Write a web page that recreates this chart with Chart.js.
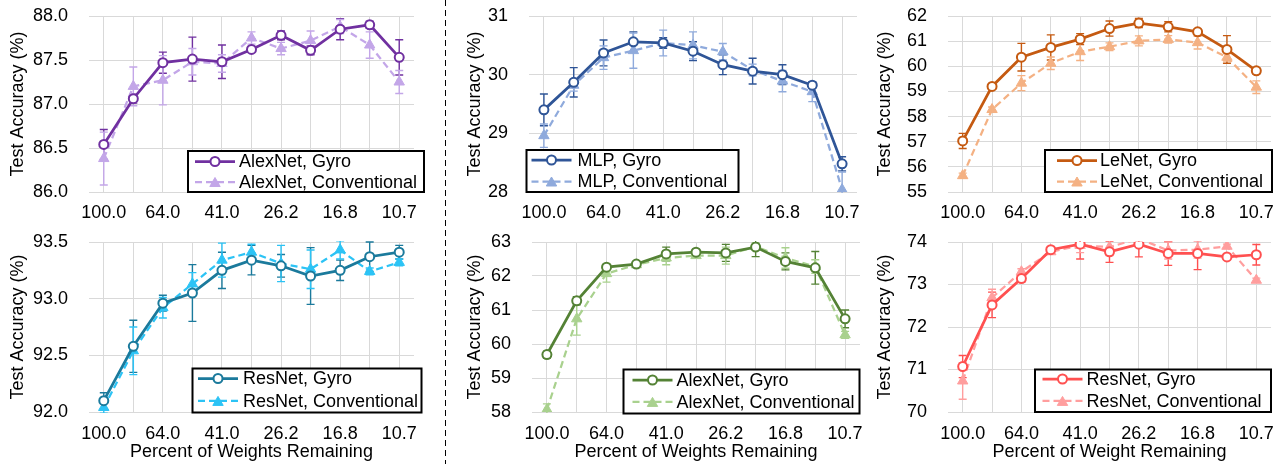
<!DOCTYPE html>
<html><head><meta charset="utf-8">
<script src="https://cdn.jsdelivr.net/npm/chart.js@4.4.1/dist/chart.umd.min.js"></script>
<style>
html,body{margin:0;padding:0;background:#fff;}
body{width:1278px;height:464px;position:relative;overflow:hidden;}
.p{position:absolute;}
canvas{display:block;}
</style></head><body>
<svg class="p" style="left:0;top:0" width="1278" height="464"><line x1="445.5" y1="0" x2="445.5" y2="464" stroke="#000" stroke-width="1" stroke-dasharray="6,4"/></svg>
<div class="p" style="left:0px;top:0px"><canvas id="c1" width="440" height="225"></canvas></div>
<div class="p" style="left:457px;top:0px"><canvas id="c2" width="413" height="225"></canvas></div>
<div class="p" style="left:867px;top:0px"><canvas id="c3" width="411" height="225"></canvas></div>
<div class="p" style="left:0px;top:225px"><canvas id="c4" width="440" height="239"></canvas></div>
<div class="p" style="left:457px;top:225px"><canvas id="c5" width="413" height="239"></canvas></div>
<div class="p" style="left:867px;top:225px"><canvas id="c6" width="411" height="239"></canvas></div>
<script>
// ---- categories (percent of weights remaining) ----
const pctLabels = ['100.0','80.0','64.0','51.2','41.0','32.8','26.2','21.0','16.8','13.4','10.7'];

// ---- AlexNet (top-left) ----
const alexTopGyro     = [86.54,87.06,87.47,87.51,87.48,87.62,87.78,87.61,87.85,87.90,87.53];
const alexTopGyroErr  = [0.17,0.05,0.12,0.25,0.19,0.03,0.05,0.05,0.12,0.04,0.20];
const alexTopConv     = [86.38,87.20,87.27,87.48,87.46,87.75,87.63,87.72,87.88,87.67,87.25];
const alexTopConvErr  = [0.30,0.22,0.28,0.15,0.10,0.07,0.07,0.11,0.08,0.15,0.13];

// ---- MLP (top-middle) ----
const mlpGyro     = [29.40,29.87,30.37,30.56,30.54,30.40,30.17,30.06,30.00,29.82,28.48];
const mlpGyroErr  = [0.27,0.25,0.22,0.17,0.09,0.16,0.17,0.22,0.17,0.05,0.12];
const mlpConv     = [28.96,29.82,30.29,30.41,30.54,30.50,30.39,30.08,29.89,29.71,28.04];
const mlpConvErr  = [0.20,0.10,0.20,0.30,0.22,0.23,0.14,0.10,0.18,0.17,0.30];

// ---- LeNet (top-right) ----
const lenetGyro     = [57.03,59.20,60.36,60.75,61.08,61.50,61.72,61.57,61.37,60.67,59.82];
const lenetGyroErr  = [0.30,0.10,0.55,0.50,0.22,0.30,0.18,0.20,0.10,0.55,0.12];
const lenetConv     = [55.65,58.28,59.33,60.12,60.58,60.78,61.01,61.07,60.94,60.36,59.17];
const lenetConvErr  = [0.10,0.10,0.30,0.25,0.35,0.15,0.20,0.15,0.25,0.15,0.25];

// ---- ResNet (bottom-left) ----
const resBlueGyro     = [92.10,92.58,92.96,93.05,93.25,93.34,93.29,93.20,93.25,93.37,93.41];
const resBlueGyroErr  = [0.07,0.23,0.07,0.25,0.16,0.13,0.10,0.25,0.09,0.13,0.06];
const resBlueConv     = [92.04,92.54,92.92,93.13,93.34,93.41,93.31,93.26,93.43,93.24,93.32];
const resBlueConvErr  = [0.05,0.21,0.09,0.10,0.15,0.07,0.16,0.17,0.08,0.03,0.03];

// ---- AlexNet (bottom-middle) ----
const alexBotGyro     = [59.69,61.27,62.26,62.35,62.65,62.70,62.68,62.85,62.43,62.24,60.74];
const alexBotGyroErr  = [0.10,0.12,0.05,0.05,0.20,0.07,0.25,0.28,0.25,0.48,0.26];
const alexBotConv     = [58.07,60.74,62.07,62.33,62.53,62.60,62.60,62.87,62.53,62.28,60.27];
const alexBotConvErr  = [0.17,0.48,0.25,0.05,0.20,0.07,0.25,0.10,0.30,0.20,0.10];

// ---- ResNet (bottom-right) ----
const resRedGyro     = [71.07,72.52,73.14,73.82,73.95,73.77,73.95,73.73,73.73,73.65,73.70];
const resRedGyroErr  = [0.26,0.30,0.08,0.05,0.35,0.25,0.30,0.28,0.38,0.05,0.24];
const resRedConv     = [70.73,72.69,73.30,73.77,73.92,73.88,74.08,73.80,73.82,73.90,73.10];
const resRedConvErr  = [0.43,0.20,0.07,0.05,0.17,0.20,0.05,0.20,0.20,0.05,0.05];

// ---- y-axis ticks ----
const yTicks1 = [86.0, 86.5, 87.0, 87.5, 88.0];
const yTicks2 = [28, 29, 30, 31];
const yTicks3 = [55, 56, 57, 58, 59, 60, 61, 62];
const yTicks4 = [92.0, 92.5, 93.0, 93.5];
const yTicks5 = [58, 59, 60, 61, 62, 63];
const yTicks6 = [70, 71, 72, 73, 74];

const FONT = '"Liberation Sans", Arial, Helvetica, sans-serif';
Chart.defaults.font.family = FONT;
Chart.defaults.font.size = 18;
Chart.defaults.color = '#000';

function drawMarker(ctx, style, r, x, y) {
  ctx.beginPath();
  if (style === 'circle') {
    ctx.arc(x, y, r, 0, Math.PI * 2);
  } else {
    const a = -Math.PI / 2;
    for (let k = 0; k < 3; k++) {
      const ang = a + k * 2 * Math.PI / 3;
      const px = x + r * Math.cos(ang), py = y + r * Math.sin(ang) + r * 0.25;
      if (k === 0) ctx.moveTo(px, py); else ctx.lineTo(px, py);
    }
    ctx.closePath();
  }
  ctx.fill();
  ctx.stroke();
}

const errorBars = {
  id: 'errorBars',
  beforeDatasetsDraw(chart) {
    const ctx = chart.ctx, xs = chart.scales.x, ys = chart.scales.y, a = chart.chartArea;
    ctx.save();
    ctx.beginPath(); ctx.rect(a.left, a.top - 1, a.right - a.left, a.bottom - a.top + 2); ctx.clip();
    chart.data.datasets.forEach(ds => {
      if (!ds.errors) return;
      ctx.strokeStyle = ds.borderColor; ctx.lineWidth = 1.4; ctx.setLineDash([]);
      ds.data.forEach((v, i) => {
        const e = ds.errors[i];
        const x = xs.getPixelForValue(i);
        const y1 = ys.getPixelForValue(v + e), y2 = ys.getPixelForValue(v - e);
        ctx.beginPath();
        ctx.moveTo(x, y1); ctx.lineTo(x, y2);
        ctx.moveTo(x - 4, y1); ctx.lineTo(x + 4, y1);
        ctx.moveTo(x - 4, y2); ctx.lineTo(x + 4, y2);
        ctx.stroke();
      });
    });
    ctx.restore();
  }
};

const boxLegend = {
  id: 'boxLegend',
  afterDraw(chart, args, o) {
    const ctx = chart.ctx;
    ctx.save();
    ctx.fillStyle = '#fff'; ctx.fillRect(o.x, o.y, o.w, o.h);
    ctx.lineWidth = 2; ctx.strokeStyle = '#000'; ctx.setLineDash([]);
    ctx.strokeRect(o.x, o.y, o.w, o.h);
    chart.data.datasets.forEach((d, i) => {
      const cy = o.y + o.rows[i];
      ctx.strokeStyle = d.borderColor; ctx.lineWidth = d.borderWidth;
      ctx.setLineDash(d.borderDash || []);
      ctx.beginPath(); ctx.moveTo(o.x + o.lx, cy); ctx.lineTo(o.x + o.lx + 40, cy); ctx.stroke();
      ctx.setLineDash([]);
      ctx.fillStyle = d.pointBackgroundColor; ctx.strokeStyle = d.pointBorderColor; ctx.lineWidth = d.pointBorderWidth;
      drawMarker(ctx, d.pointStyle, d.pointRadius, o.x + o.lx + 20, cy);
      ctx.fillStyle = '#000'; ctx.font = '18px ' + FONT; ctx.textBaseline = 'middle'; ctx.textAlign = 'left';
      ctx.fillText(d.label, o.x + o.tx, cy + 1);
    });
    ctx.restore();
  }
};

function makeChart(id, c) {
  new Chart(document.getElementById(id), {
    type: 'line',
    data: {
      labels: pctLabels,
      datasets: [
        { label: c.names[0], data: c.gyro, errors: c.gyroErr, borderColor: c.dark, backgroundColor: '#fff',
          borderWidth: 2.75, pointStyle: 'circle', pointRadius: 4.5, pointHoverRadius: 4.5, pointBorderWidth: 2,
          pointBorderColor: c.dark, pointBackgroundColor: '#fff', tension: 0 },
        { label: c.names[1], data: c.conv, errors: c.convErr, borderColor: c.light, backgroundColor: c.light,
          borderWidth: 2.25, borderDash: [7, 4], pointStyle: 'triangle', pointRadius: 6, pointHoverRadius: 6, pointBorderWidth: 1,
          pointBorderColor: c.light, pointBackgroundColor: c.light, tension: 0 }
      ]
    },
    options: {
      responsive: false, animation: false, devicePixelRatio: 1,
      events: [],
      layout: { padding: { left: 0, top: c.padTop, right: c.padRight, bottom: 0 } },
      plugins: { legend: { display: false }, tooltip: { enabled: false }, boxLegend: c.legend },
      scales: {
        x: {
          type: 'category', offset: true,
          grid: { color: '#D9D9D9', lineWidth: 1, offset: false, drawTicks: false },
          border: { display: false },
          ticks: { autoSkip: false, maxRotation: 0, minRotation: 0, padding: c.xPad, color: '#000', font: { size: 18 },
                   callback: (v, i) => (i % 2 === 0 ? pctLabels[i] : '') },
          title: c.xTitle ? { display: true, text: c.xTitle, color: '#000', font: { size: 18 }, padding: { top: 0, bottom: 1 } } : { display: false },
          afterFit: s => { s.height = c.xH; s.paddingLeft = 0; s.paddingRight = 0; }
        },
        y: {
          min: c.yTicks[0], max: c.yTicks[c.yTicks.length - 1],
          afterBuildTicks: s => { s.ticks = c.yTicks.map(v => ({ value: v })); },
          grid: { color: '#D9D9D9', lineWidth: 1, drawTicks: false },
          border: { display: false },
          ticks: { padding: 21, color: '#000', font: { size: 18 }, callback: v => Number(v).toFixed(c.dec) },
          title: { display: true, text: 'Test Accuracy (%)', color: '#000', font: { size: 18 }, padding: { top: 7, bottom: 0 } },
          afterFit: s => { s.width = c.yW; s.paddingTop = 0; s.paddingBottom = 0; }
        }
      }
    },
    plugins: [errorBars, boxLegend]
  });
}

makeChart('c1', { names: ['AlexNet, Gyro', 'AlexNet, Conventional'], gyro: alexTopGyro, gyroErr: alexTopGyroErr,
  conv: alexTopConv, convErr: alexTopConvErr, dark: '#7030A0', light: '#C3A6E8', yTicks: yTicks1, dec: 1,
  yW: 89, padTop: 16, padRight: 26, xH: 33, xPad: 10, xTitle: null,
  legend: { x: 188, y: 151, w: 236, h: 41, lx: 7, tx: 51, rows: [10.5, 31] } });

makeChart('c2', { names: ['MLP, Gyro', 'MLP, Conventional'], gyro: mlpGyro, gyroErr: mlpGyroErr,
  conv: mlpConv, convErr: mlpConvErr, dark: '#2F5597', light: '#8FAADC', yTicks: yTicks2, dec: 0,
  yW: 72, padTop: 16, padRight: 13, xH: 33, xPad: 10, xTitle: null,
  legend: { x: 69.5, y: 150, w: 212, h: 42, lx: 5, tx: 51, rows: [10, 31.5] } });

makeChart('c3', { names: ['LeNet, Gyro', 'LeNet, Conventional'], gyro: lenetGyro, gyroErr: lenetGyroErr,
  conv: lenetConv, convErr: lenetConvErr, dark: '#C55A11', light: '#F4B183', yTicks: yTicks3, dec: 0,
  yW: 81, padTop: 16, padRight: 4, xH: 33, xPad: 10, xTitle: null,
  legend: { x: 178, y: 150, w: 227, h: 42, lx: 12, tx: 55, rows: [10.5, 31.5] } });

makeChart('c4', { names: ['ResNet, Gyro', 'ResNet, Conventional'], gyro: resBlueGyro, gyroErr: resBlueGyroErr,
  conv: resBlueConv, convErr: resBlueConvErr, dark: '#1B7A9C', light: '#2CC3F5', yTicks: yTicks4, dec: 1,
  yW: 89, padTop: 17, padRight: 26, xH: 52, xPad: 11, xTitle: 'Percent of Weights Remaining',
  legend: { x: 192.5, y: 143.5, w: 229, h: 44, lx: 5.5, tx: 50.5, rows: [10, 32.4] } });

makeChart('c5', { names: ['AlexNet, Gyro', 'AlexNet, Conventional'], gyro: alexBotGyro, gyroErr: alexBotGyroErr,
  conv: alexBotConv, convErr: alexBotConvErr, dark: '#548235', light: '#A9D18E', yTicks: yTicks5, dec: 0,
  yW: 75, padTop: 17, padRight: 10, xH: 52, xPad: 11, xTitle: 'Percent of Weights Remaining',
  legend: { x: 166.5, y: 144.5, w: 236, h: 44, lx: 9, tx: 53, rows: [10.5, 32.4] } });

makeChart('c6', { names: ['ResNet, Gyro', 'ResNet, Conventional'], gyro: resRedGyro, gyroErr: resRedGyroErr,
  conv: resRedConv, convErr: resRedConvErr, dark: '#FF5050', light: '#FF9E9E', yTicks: yTicks6, dec: 0,
  yW: 81, padTop: 17, padRight: 4, xH: 52, xPad: 11, xTitle: 'Percent of Weight Remaining',
  legend: { x: 168, y: 144.5, w: 236, h: 42.5, lx: 7.5, tx: 51.5, rows: [9.5, 31.4] } });
</script>
</body></html>
